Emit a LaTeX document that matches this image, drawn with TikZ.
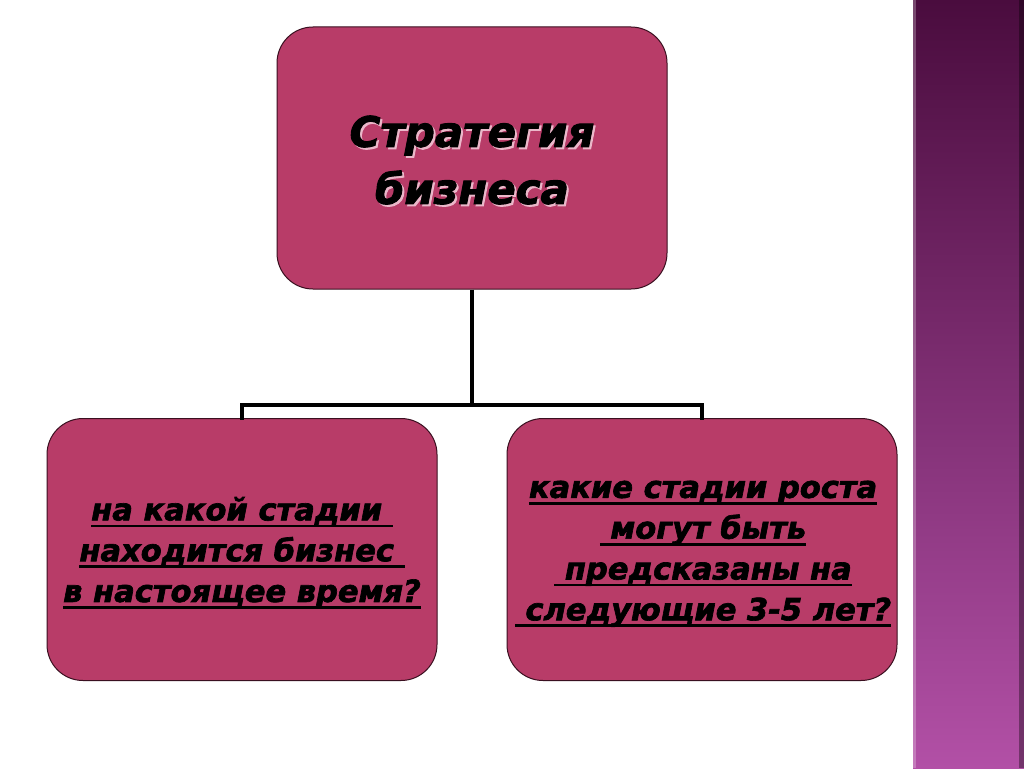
\documentclass[tikz,border=0pt]{standalone}
\usepackage{fontspec}
\setmainfont{DejaVu Sans}[BoldItalicFeatures={FakeBold=2.2}]
\newcommand\myul[1]{\setbox0\hbox{#1}\leavevmode\rlap{\rule[-7pt]{\wd0}{2.8pt}}\box0}
\definecolor{boxfill}{HTML}{B83C68}
\definecolor{boxline}{HTML}{3A1020}
\definecolor{striptop}{HTML}{4A0C3E}
\definecolor{stripmid}{HTML}{7C3474}
\definecolor{stripbot}{HTML}{B250A6}
\definecolor{shadowpink}{HTML}{EBB8CA}
\tikzset{
  blockbox/.style={draw=boxline, line width=1pt, fill=boxfill, rounded corners=36pt, minimum width=390pt, minimum height=262pt},
  linker/.style={line width=4.5pt, black},
  titletext/.style={align=center, font=\fontsize{42}{57}\selectfont\bfseries\itshape},
  bodytext/.style={align=center, font=\fontsize{30.5}{40.8}\selectfont\bfseries\itshape}
}
\begin{document}
\begin{tikzpicture}[x=1pt,y=-1pt]
\useasboundingbox (0,0) rectangle (1024,768);
\fill[white] (0,0) rectangle (1024,768);
% right decorative strip
\shade[top color=striptop, middle color=stripmid, bottom color=stripbot] (913,0) rectangle (1024,768);
\fill[white, opacity=0.25] (913,0) rectangle (916,768);
\fill[black, opacity=0.35] (1019,0) rectangle (1024,768);
% boxes
\node[blockbox] (top) at (472,158) {};
\node[blockbox] (left) at (242,549.5) {};
\node[blockbox] (right) at (702,549.5) {};
% connectors
\coordinate (junc) at (472,405);
\draw[linker] (top.south) -- (junc);
\draw[linker, line cap=rect] (left.north) |- (junc) -| (right.north);
% title text with shadow
\node[titletext, text=shadowpink] at (474,162) {Стратегия\\ бизнеса};
\node[titletext, text=black] (toptext) at (472,160) {Стратегия\\ бизнеса};
% bottom texts
\node[bodytext] (lefttext) at (242,553) {\myul{на какой стадии }\\\myul{находится бизнес }\\\myul{в настоящее время?}};
\node[bodytext] (righttext) at (703,554) {\myul{какие стадии роста}\\\myul{\ могут быть}\\\myul{\ предсказаны на}\\\myul{\ следующие 3-5 лет?}};
\end{tikzpicture}
\end{document}
